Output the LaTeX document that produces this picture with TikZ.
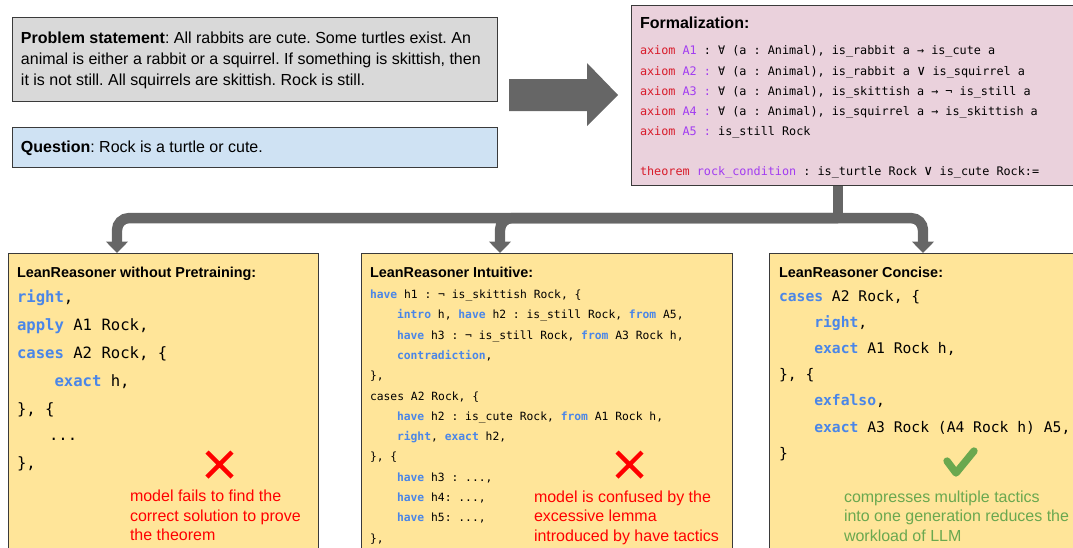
\documentclass[tikz,border=0pt]{standalone}
\usepackage{fontspec}
\setmainfont{Liberation Sans}
\newfontfamily\codefont[WordSpace={1,0,0},PunctuationSpace=WordSpace]{DejaVu Sans Mono}
\usetikzlibrary{arrows.meta,calc}
\definecolor{boxgray}{HTML}{D9D9D9}
\definecolor{boxblue}{HTML}{CFE2F3}
\definecolor{boxpink}{HTML}{EAD1DC}
\definecolor{boxyellow}{HTML}{FFE599}
\definecolor{boxborder}{HTML}{3A3A3A}
\definecolor{arrowgray}{HTML}{666666}
\definecolor{kwblue}{HTML}{4A86E8}
\definecolor{axred}{HTML}{D81B2A}
\definecolor{axpur}{HTML}{A23CF0}
\definecolor{notered}{HTML}{FF0000}
\definecolor{notegreen}{HTML}{6AA84F}
\newcommand\fprob{\fontsize{12}{15}\selectfont}
\newcommand\ftitle{\fontsize{10.8}{13}\selectfont\bfseries}
\newcommand\fformtitle{\fontsize{12}{14}\selectfont\bfseries}
\newcommand\fformal{\codefont\fontsize{8.85}{10}\selectfont}
\newcommand\fcodeL{\codefont\fontsize{11.7}{13}\selectfont}
\newcommand\fcodeM{\codefont\fontsize{8.5}{10}\selectfont}
\newcommand\fcodeR{\codefont\fontsize{11}{13}\selectfont}
\newcommand\kwd[1]{{\color{kwblue}\bfseries #1}}
\newcommand\axr[1]{{\color{axred}#1}}
\newcommand\axp[1]{{\color{axpur}#1}}
\newcommand\myvee{{\fontsize{10.5}{10}\selectfont ∨}}
\frenchspacing
\tikzset{
  boxline/.style={draw=boxborder, line width=0.8pt, inner sep=0pt, anchor=north west},
  txt/.style={anchor=base west, inner sep=0pt, outer sep=0pt},
  conn/.style={draw=arrowgray, line width=7.8pt, rounded corners=9pt, -{Triangle[width=16pt,length=8.5pt]}},
  stemline/.style={draw=arrowgray, line width=8.2pt},
  crossmark/.style={draw=notered, line width=3.2pt},
  checkmark/.style={draw=notegreen, line width=5.5pt, line cap=round, line join=round},
  redtxt/.style={txt, text=notered, font=\fprob},
  greentxt/.style={txt, text=notegreen, font=\fprob},
}
\begin{document}
\begin{tikzpicture}[x=0.75pt,y=-0.75pt]
\useasboundingbox (0,0) rectangle (1073,547);
\clip (0,0) rectangle (1073,547);

% ---------- boxes ----------
\node[boxline, fill=boxgray, minimum width={485*0.75pt}, minimum height={84*0.75pt}] (prob) at (12,17) {};
\node[boxline, fill=boxblue, minimum width={485*0.75pt}, minimum height={40*0.75pt}] (quest) at (12,127) {};
\node[boxline, fill=boxpink, minimum width={470*0.75pt}, minimum height={180*0.75pt}] (formal) at (631,5) {};
\node[boxline, fill=boxyellow, minimum width={310*0.75pt}, minimum height={310*0.75pt}] (lbox) at (8,253) {};
\node[boxline, fill=boxyellow, minimum width={371*0.75pt}, minimum height={310*0.75pt}] (mbox) at (361,253) {};
\node[boxline, fill=boxyellow, minimum width={330*0.75pt}, minimum height={310*0.75pt}] (rbox) at (769,253) {};

% ---------- problem / question ----------
\node[txt, font=\fprob] (p1) at (21,43) {\textbf{Problem statement}: All rabbits are cute. Some turtles exist. An};
\node[txt, font=\fprob] (p2) at (21,64) {animal is either a rabbit or a squirrel. If something is skittish, then};
\node[txt, font=\fprob] (p3) at (21,85) {it is not still. All squirrels are skittish. Rock is still.};
\node[txt, font=\fprob] (q1) at (21,152) {\textbf{Question}: Rock is a turtle or cute.};

% ---------- big arrow ----------
\fill[arrowgray] (509,79) -- (587,79) -- (587,63) -- (618,95) -- (587,126) -- (587,111) -- (509,111) -- cycle;

% ---------- formalization ----------
\node[txt, font=\fformtitle] (ft) at (640,28) {Formalization:};
\node[txt, font=\fformal] (f1) at (640,54) {\axr{axiom} \axp{A1} : ∀ (a : Animal), is\_rabbit a → is\_cute a};
\node[txt, font=\fformal] (f2) at (640,75.5) {\axr{axiom} \axp{A2 :} ∀ (a : Animal), is\_rabbit a \myvee{} is\_squirrel a};
\node[txt, font=\fformal] (f3) at (640,95) {\axr{axiom} \axp{A3 :} ∀ (a : Animal), is\_skittish a → ¬ is\_still a};
\node[txt, font=\fformal] (f4) at (640,115) {\axr{axiom} \axp{A4 :} ∀ (a : Animal), is\_squirrel a → is\_skittish a};
\node[txt, font=\fformal] (f5) at (640,135) {\axr{axiom} \axp{A5 :} is\_still Rock};
\node[txt, font=\fformal] (f6) at (640,175) {\axr{theorem} \axp{rock\_condition} : is\_turtle Rock \myvee{} is\_cute Rock:=};

% ---------- left box ----------
\node[txt, font=\ftitle] (lt) at (17,277) {LeanReasoner without Pretraining:};
\node[txt, font=\fcodeL] (l1) at (17,302) {\kwd{right},};
\node[txt, font=\fcodeL] (l2) at (17,330) {\kwd{apply} A1 Rock,};
\node[txt, font=\fcodeL] (l3) at (17,358) {\kwd{cases} A2 Rock, \{};
\node[txt, font=\fcodeL] (l4) at (54.5,386) {\kwd{exact} h,};
\node[txt, font=\fcodeL] (l5) at (17,414) {\}, \{};
\node[txt, font=\fcodeL] (l6) at (49,440) {...};
\node[txt, font=\fcodeL] (l7) at (17,468) {\},};
\draw[crossmark] (207,452) -- (232,477) (207,477) -- (232,452);
\node[redtxt] (ln1) at (130,501) {model fails to find the};
\node[redtxt] (ln2) at (130,521) {correct solution to prove};
\node[redtxt] (ln3) at (130,540) {the theorem};

% ---------- middle box ----------
\node[txt, font=\ftitle] (mt) at (370,277) {LeanReasoner Intuitive:};
\node[txt, font=\fcodeM] (m1) at (370,298.5) {\kwd{have} h1 : ¬ is\_skittish Rock, \{};
\node[txt, font=\fcodeM] (m2) at (397,318.8) {\kwd{intro} h, \kwd{have} h2 : is\_still Rock, \kwd{from} A5,};
\node[txt, font=\fcodeM] (m3) at (397,339.1) {\kwd{have} h3 : ¬ is\_still Rock, \kwd{from} A3 Rock h,};
\node[txt, font=\fcodeM] (m4) at (397,359.4) {\kwd{contradiction},};
\node[txt, font=\fcodeM] (m5) at (370,379.7) {\},};
\node[txt, font=\fcodeM] (m6) at (370,400) {cases A2 Rock, \{};
\node[txt, font=\fcodeM] (m7) at (397,420.3) {\kwd{have} h2 : is\_cute Rock, \kwd{from} A1 Rock h,};
\node[txt, font=\fcodeM] (m8) at (397,440.6) {\kwd{right}, \kwd{exact} h2,};
\node[txt, font=\fcodeM] (m9) at (370,460.9) {\}, \{};
\node[txt, font=\fcodeM] (m10) at (397,481.2) {\kwd{have} h3 : ...,};
\node[txt, font=\fcodeM] (m11) at (397,501.5) {\kwd{have} h4: ...,};
\node[txt, font=\fcodeM] (m12) at (397,521.8) {\kwd{have} h5: ...,};
\node[txt, font=\fcodeM] (m13) at (370,542.1) {\},};
\draw[crossmark] (617,452) -- (642,477) (617,477) -- (642,452);
\node[redtxt] (mn1) at (534,502) {model is confused by the};
\node[redtxt] (mn2) at (534,521) {excessive lemma};
\node[redtxt] (mn3) at (534,541) {introduced by have tactics};

% ---------- right box ----------
\node[txt, font=\ftitle] (rt) at (779,277) {LeanReasoner Concise:};
\node[txt, font=\fcodeR] (r1) at (779,301) {\kwd{cases} A2 Rock, \{};
\node[txt, font=\fcodeR] (r2) at (814.3,327.2) {\kwd{right},};
\node[txt, font=\fcodeR] (r3) at (814.3,353.4) {\kwd{exact} A1 Rock h,};
\node[txt, font=\fcodeR] (r4) at (779,379.6) {\}, \{};
\node[txt, font=\fcodeR] (r5) at (814.3,405.8) {\kwd{exfalso},};
\node[txt, font=\fcodeR] (r6) at (814.3,432) {\kwd{exact} A3 Rock (A4 Rock h) A5,};
\node[txt, font=\fcodeR] (r7) at (779,458.2) {\}};
\draw[checkmark] (947,461) -- (956,473) -- (974,451);
\node[greentxt] (rn1) at (844,502) {compresses multiple tactics};
\node[greentxt] (rn2) at (844,521) {into one generation reduces the};
\node[greentxt] (rn3) at (844,541) {workload of LLM};

% ---------- connectors ----------
\coordinate (jn) at ($(formal.south west)+(207,32)$);
\draw[stemline] ($(formal.south west)+(207,0)$) -- ($(formal.south west)+(207,37)$);
\draw[conn] (jn) -| ($(lbox.north west)+(109,0)$);
\draw[conn] (jn) -| ($(mbox.north west)+(139,0)$);
\draw[conn] (jn) -| ($(rbox.north west)+(154,0)$);
\end{tikzpicture}
\end{document}
